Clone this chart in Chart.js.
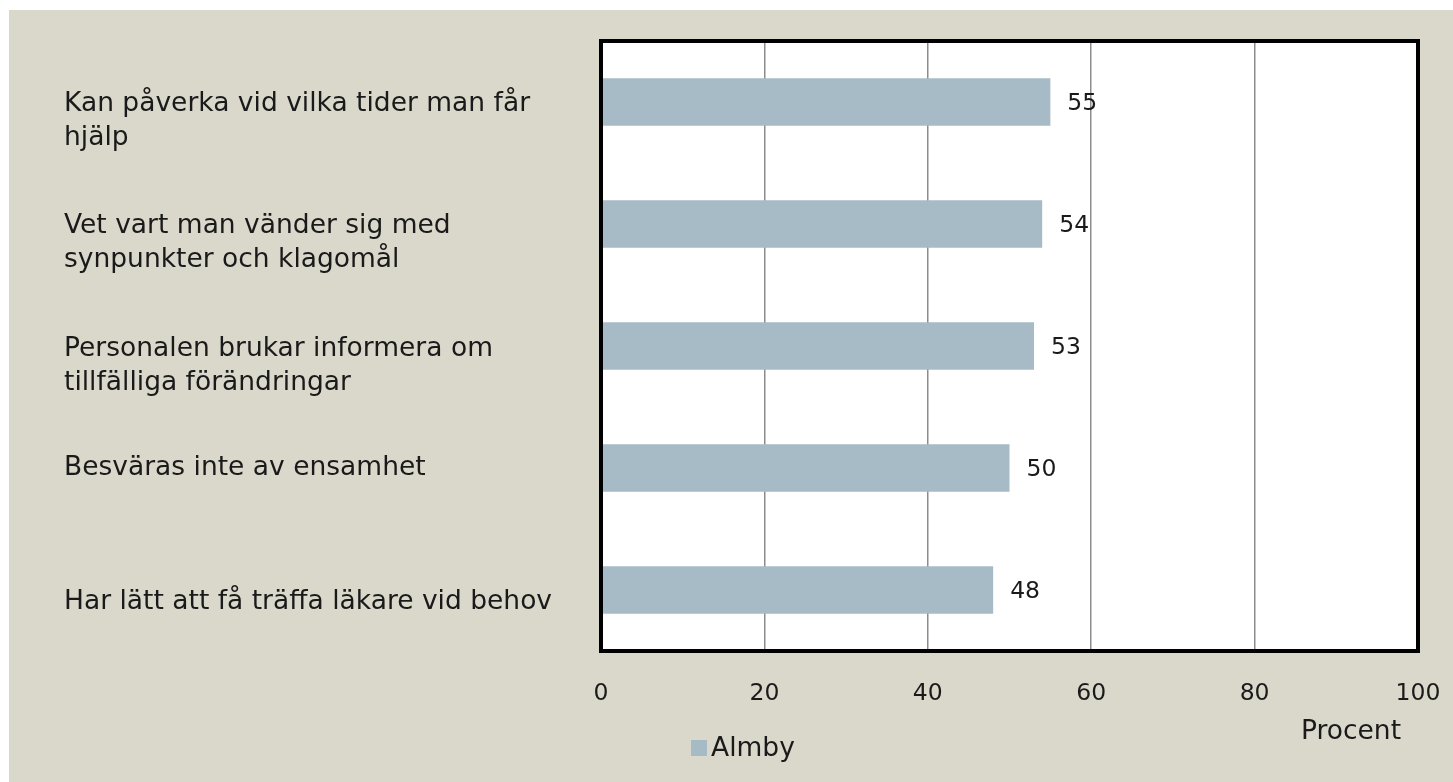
<!DOCTYPE html>
<html>
<head>
<meta charset="utf-8">
<script src="https://cdn.jsdelivr.net/npm/chart.js@4.4.1/dist/chart.umd.min.js"></script>
<style>
    html, body { margin: 0; padding: 0; background: #ffffff; }
    #wrap { position: absolute; left: 9px; top: 10px; width: 1444px; height: 772px; background: #DAD7CB; }
</style>
</head>
<body>
<div id="wrap"><canvas id="grafico" width="1444" height="772"></canvas></div>
<script>
const kategorier = [
    ["Kan påverka vid vilka tider man får", "hjälp"],
    ["Vet vart man vänder sig med", "synpunkter och klagomål"],
    ["Personalen brukar informera om", "tillfälliga förändringar"],
    ["Besväras inte av ensamhet"],
    ["Har lätt att få träffa läkare vid behov"]
];
const almby = [55, 54, 53, 50, 48];
const xTicks = [0, 20, 40, 60, 80, 100];
const serieNamn = "Almby";
const axelTitel = "Procent";

const FONT = '26.5px "DejaVu Sans", sans-serif';
const NUMFONT = '23.5px "DejaVu Sans", sans-serif';
const TEXT = '#1a1a1a';

// vit plotyta, svart ram, texter runt om
const ramPlugin = {
    id: 'ram',
    beforeDraw(chart) {
        const { ctx, chartArea: a } = chart;
        ctx.save();
        ctx.fillStyle = '#ffffff';
        ctx.fillRect(a.left, a.top, a.right - a.left, a.bottom - a.top);
        ctx.restore();
    },
    afterDatasetsDraw(chart) {
        const { ctx, chartArea: a } = chart;
        const y = chart.scales.y;
        ctx.save();
        ctx.strokeStyle = '#000';
        ctx.lineWidth = 4;
        ctx.strokeRect(a.left, a.top, a.right - a.left, a.bottom - a.top);

        ctx.font = FONT;
        ctx.fillStyle = TEXT;
        ctx.textBaseline = 'middle';

        // kategori-etiketter, vänsterjusterade
        const nudge = [2, 2, 3, 0, 12];
        kategorier.forEach((rader, i) => {
            const yc = y.getPixelForValue(i) + nudge[i];
            ctx.textAlign = 'left';
            rader.forEach((r, j) => ctx.fillText(r, 55, yc + j * 34));
        });

        // värden vid staplarna
        ctx.font = NUMFONT;
        const meta = chart.getDatasetMeta(0);
        meta.data.forEach((bar, i) => {
            ctx.textAlign = 'left';
            ctx.fillText(String(almby[i]), bar.x + 17, bar.y + 2);
        });

        // axeltitel
        ctx.font = FONT;
        ctx.textAlign = 'center';
        ctx.fillText(axelTitel, 1342, 722);

        // förklaring
        ctx.fillStyle = '#A7BBC6';
        ctx.fillRect(682, 730, 16, 16);
        ctx.fillStyle = TEXT;
        ctx.textAlign = 'left';
        ctx.fillText(serieNamn, 702, 739);
        ctx.restore();
    }
};

new Chart(document.getElementById('grafico'), {
    type: 'bar',
    data: {
        labels: kategorier,
        datasets: [{
            label: serieNamn,
            data: almby,
            backgroundColor: '#A7BBC6',
            categoryPercentage: 1,
            barPercentage: 0.39
        }]
    },
    options: {
        indexAxis: 'y',
        responsive: false,
        animation: false,
        layout: { padding: { left: 56, top: 31, right: 35, bottom: 0 } },
        plugins: {
            legend: { display: false },
            tooltip: { enabled: false }
        },
        scales: {
            x: {
                min: 0,
                max: 100,
                afterBuildTicks: (s) => { s.ticks = xTicks.map(v => ({ value: v })); },
                afterFit: (s) => { s.height = 131; s.paddingLeft = 0; s.paddingRight = 0; },
                grid: {
                    color: (c) => (c.tick && (c.tick.value === 0 || c.tick.value === 100)) ? 'rgba(0,0,0,0)' : '#8c8c8c',
                    lineWidth: 1.5,
                    drawTicks: false
                },
                border: { display: false },
                ticks: { color: TEXT, font: { family: '"DejaVu Sans", sans-serif', size: 23.5 }, padding: 29 }
            },
            y: {
                afterFit: (s) => { s.width = 536; },
                grid: { display: false },
                border: { display: false },
                ticks: { display: false }
            }
        }
    },
    plugins: [ramPlugin]
});
</script>
</body>
</html>
